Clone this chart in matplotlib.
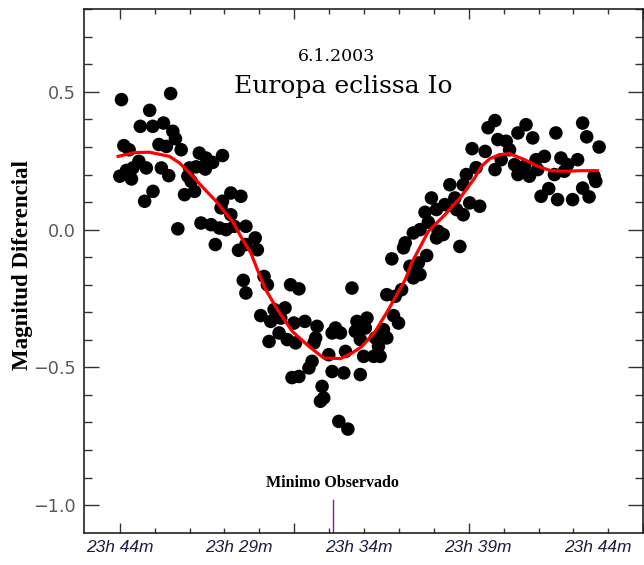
import matplotlib
matplotlib.use("Agg")
import matplotlib.pyplot as plt
import numpy as np

# Observaciones (minutos desde el primer rotulo, magnitud diferencial)
tiempo = [
    0.07, 2.13, 1.25, 0.86, 1.38, 1.83, 2.22, 2.33, 0.17, 0.39, 1.64, 1.95, 2.57,
    3.33, 3.61, 4.30, 3.89, 0.80, 0.55, 0.28, 0.00, 0.49, 1.11, 1.74, 2.05, 2.92,
    3.20, 3.58, 2.85, 2.99, 1.39, 1.04, 2.71, 3.13, 4.65, 5.07, 4.30, 4.24, 4.65,
    2.43, 3.40, 3.82, 4.17, 4.45, 4.79, 5.28, 4.00, 4.97, 5.28, 5.17, 5.28,
    5.67, 5.76, 6.04, 6.18, 7.15, 7.50, 5.90, 6.46, 6.92, 6.32, 6.74, 7.29, 7.75,
    8.26, 9.03, 8.89, 9.24, 6.67, 6.25, 7.01, 7.36, 8.20, 8.13, 8.05, 7.92, 7.50,
    7.21, 8.75, 8.89, 9.45, 9.38, 8.47, 8.54, 8.40, 9.17, 9.55, 9.72,
    14.75, 14.92, 14.51, 13.82, 14.38, 13.05, 13.61, 14.03, 14.65, 12.78, 13.26,
    14.10, 14.38, 12.92, 12.57, 12.29, 13.33, 13.54, 13.26, 14.24, 11.95, 11.88,
    11.39, 12.85, 12.15, 12.50, 12.57, 12.29, 11.80, 11.18, 11.53, 11.46, 11.67,
    10.35, 9.93, 10.28, 11.04, 9.86, 11.18, 10.70, 10.07, 10.83, 10.21, 10.63,
    10.90, 10.07,
    15.42, 15.71, 17.01, 16.67, 17.29, 18.26, 19.38, 19.55, 20.07, 15.30, 15.83,
    16.18, 16.32, 15.97, 16.53, 16.95, 17.43, 17.78, 17.50, 16.67, 17.15, 15.71,
    18.47, 18.75, 19.17, 18.20, 18.61, 19.86, 19.93, 17.96, 19.38, 17.64, 18.33,
    18.96, 19.65, 15.07,
]
magnitud = [
    0.472, 0.494, 0.433, 0.375, 0.375, 0.387, 0.357, 0.330, 0.305, 0.290, 0.309,
    0.302, 0.290, 0.278, 0.260, 0.269, 0.244, 0.248, 0.224, 0.215, 0.194, 0.184,
    0.224, 0.224, 0.196, 0.224, 0.228, 0.220, 0.194, 0.175, 0.139, 0.103, 0.127,
    0.139, 0.133, 0.121, 0.103, 0.079, 0.054, 0.003, 0.024, 0.018, 0.006, 0.000,
    0.012, 0.012, -0.054, -0.075, -0.054, -0.184, -0.230,
    -0.030, -0.073, -0.170, -0.200, -0.200, -0.215, -0.312, -0.290, -0.284, -0.333,
    -0.321, -0.339, -0.333, -0.351, -0.357, -0.375, -0.375, -0.375, -0.406, -0.399,
    -0.411, -0.393, -0.411, -0.478, -0.502, -0.533, -0.537, -0.454, -0.515, -0.442,
    -0.520, -0.569, -0.611, -0.623, -0.696, -0.724, -0.212,
    0.294, 0.225, 0.200, 0.163, 0.163, 0.115, 0.091, 0.115, 0.097, 0.063, 0.073,
    0.073, 0.054, 0.027, 0.000, -0.012, -0.006, -0.018, -0.030, -0.061, -0.048,
    -0.066, -0.106, -0.094, -0.133, -0.121, -0.163, -0.175, -0.218, -0.236, -0.242,
    -0.312, -0.339, -0.321, -0.333, -0.357, -0.363, -0.369, -0.393, -0.393, -0.399,
    -0.424, -0.460, -0.460, -0.460, -0.526,
    0.370, 0.396, 0.381, 0.351, 0.333, 0.351, 0.387, 0.337, 0.300, 0.284, 0.327,
    0.321, 0.290, 0.254, 0.236, 0.230, 0.254, 0.266, 0.218, 0.200, 0.194, 0.218,
    0.260, 0.236, 0.254, 0.200, 0.212, 0.194, 0.175, 0.149, 0.151, 0.121, 0.109,
    0.109, 0.119, 0.085,
]

# Curva ajustada (roja)
ajuste_t = [-0.07, 0.63, 1.25, 2.08, 2.50, 2.92, 3.33, 4.03, 4.72, 5.14, 5.49,
            5.76, 6.11, 6.60, 7.22, 7.92, 8.54, 9.24, 9.72, 10.14, 10.70, 11.25,
            11.67, 11.95, 12.22, 12.92, 13.61, 14.30, 14.86, 15.14, 15.50, 15.90,
            16.32, 16.95, 17.50, 18.05, 18.61, 19.30, 20.00]
ajuste_mag = [0.266, 0.280, 0.281, 0.266, 0.242, 0.206, 0.167, 0.103, 0.030,
              -0.036, -0.085, -0.145, -0.218, -0.290, -0.369, -0.424, -0.466,
              -0.468, -0.448, -0.424, -0.369, -0.290, -0.224, -0.182, -0.121,
              -0.006, 0.054, 0.121, 0.188, 0.230, 0.258, 0.272, 0.276, 0.254,
              0.230, 0.214, 0.212, 0.214, 0.214]

etiquetas_x = ["23h 44m", "23h 29m", "23h 34m", "23h 39m", "23h 44m"]
posiciones_etiquetas = [0, 5, 10, 15, 20]
minimo_t = 8.92

fig = plt.figure(figsize=(6.44, 5.65), dpi=100)
ax = fig.add_axes([0.1304, 0.0572, 0.8685, 0.9264])

ax.scatter(tiempo, magnitud, s=95, color="black", edgecolors="none", zorder=3)
ax.plot(ajuste_t, ajuste_mag, color="red", linewidth=2.3, zorder=4)

# Linea del minimo observado
ax.plot([minimo_t, minimo_t], [-0.98, -1.1], color="#8b1a8b", linewidth=1.0, zorder=2)
ax.text(minimo_t, -0.919, "Minimo Observado", ha="center", va="center",
        fontsize=11.5, fontweight="bold", family="Liberation Serif")

ax.text(9.08, 0.628, "6.1.2003", ha="center", va="center", fontsize=12.5,
        family="DejaVu Serif")
ax.text(9.375, 0.519, "Europa eclissa Io", ha="center", va="center", fontsize=18,
        family="DejaVu Serif")

ax.set_xlim(-1.5, 21.8)
ax.set_ylim(-1.1, 0.8)

paso = 1.4613
ax.set_xticks(np.arange(0, 22, 5 * paso))
ax.set_xticks(np.arange(0, 22, paso), minor=True)
ax.set_xticklabels([])
ax.set_yticks([-1.0, -0.5, 0.0, 0.5])
ax.set_yticks(np.arange(-1.0, 0.81, 0.1), minor=True)
ax.set_yticklabels(["\u22121.0", "\u22120.5", "0.0", "0.5"])

ax.tick_params(axis="both", which="both", direction="in", top=True, right=True,
               color="#333333", width=1.0)
ax.tick_params(axis="x", which="major", length=7.2)
ax.tick_params(axis="x", which="minor", length=3.6)
ax.tick_params(axis="y", which="major", length=10.8, pad=6, labelsize=12.7,
               labelcolor="#5a5a5a")
ax.tick_params(axis="y", which="minor", length=5.8)
for lab in ax.get_yticklabels():
    lab.set_family("DejaVu Sans")

for t, lab in zip(posiciones_etiquetas, etiquetas_x):
    ax.text(t, -0.014, lab, transform=ax.get_xaxis_transform(), ha="center",
            va="top", fontsize=12.5, style="italic", color="#1c1c3c",
            family="Liberation Sans")

for s in ax.spines.values():
    s.set_linewidth(1.2)
    s.set_color("#222222")

fig.text(23 / 644, 1 - 265 / 565, "Magnitud Diferencial", rotation=90,
         ha="center", va="center", fontsize=16.5, fontweight="bold",
         family="Liberation Serif")

fig.savefig("out.png", dpi=100)
